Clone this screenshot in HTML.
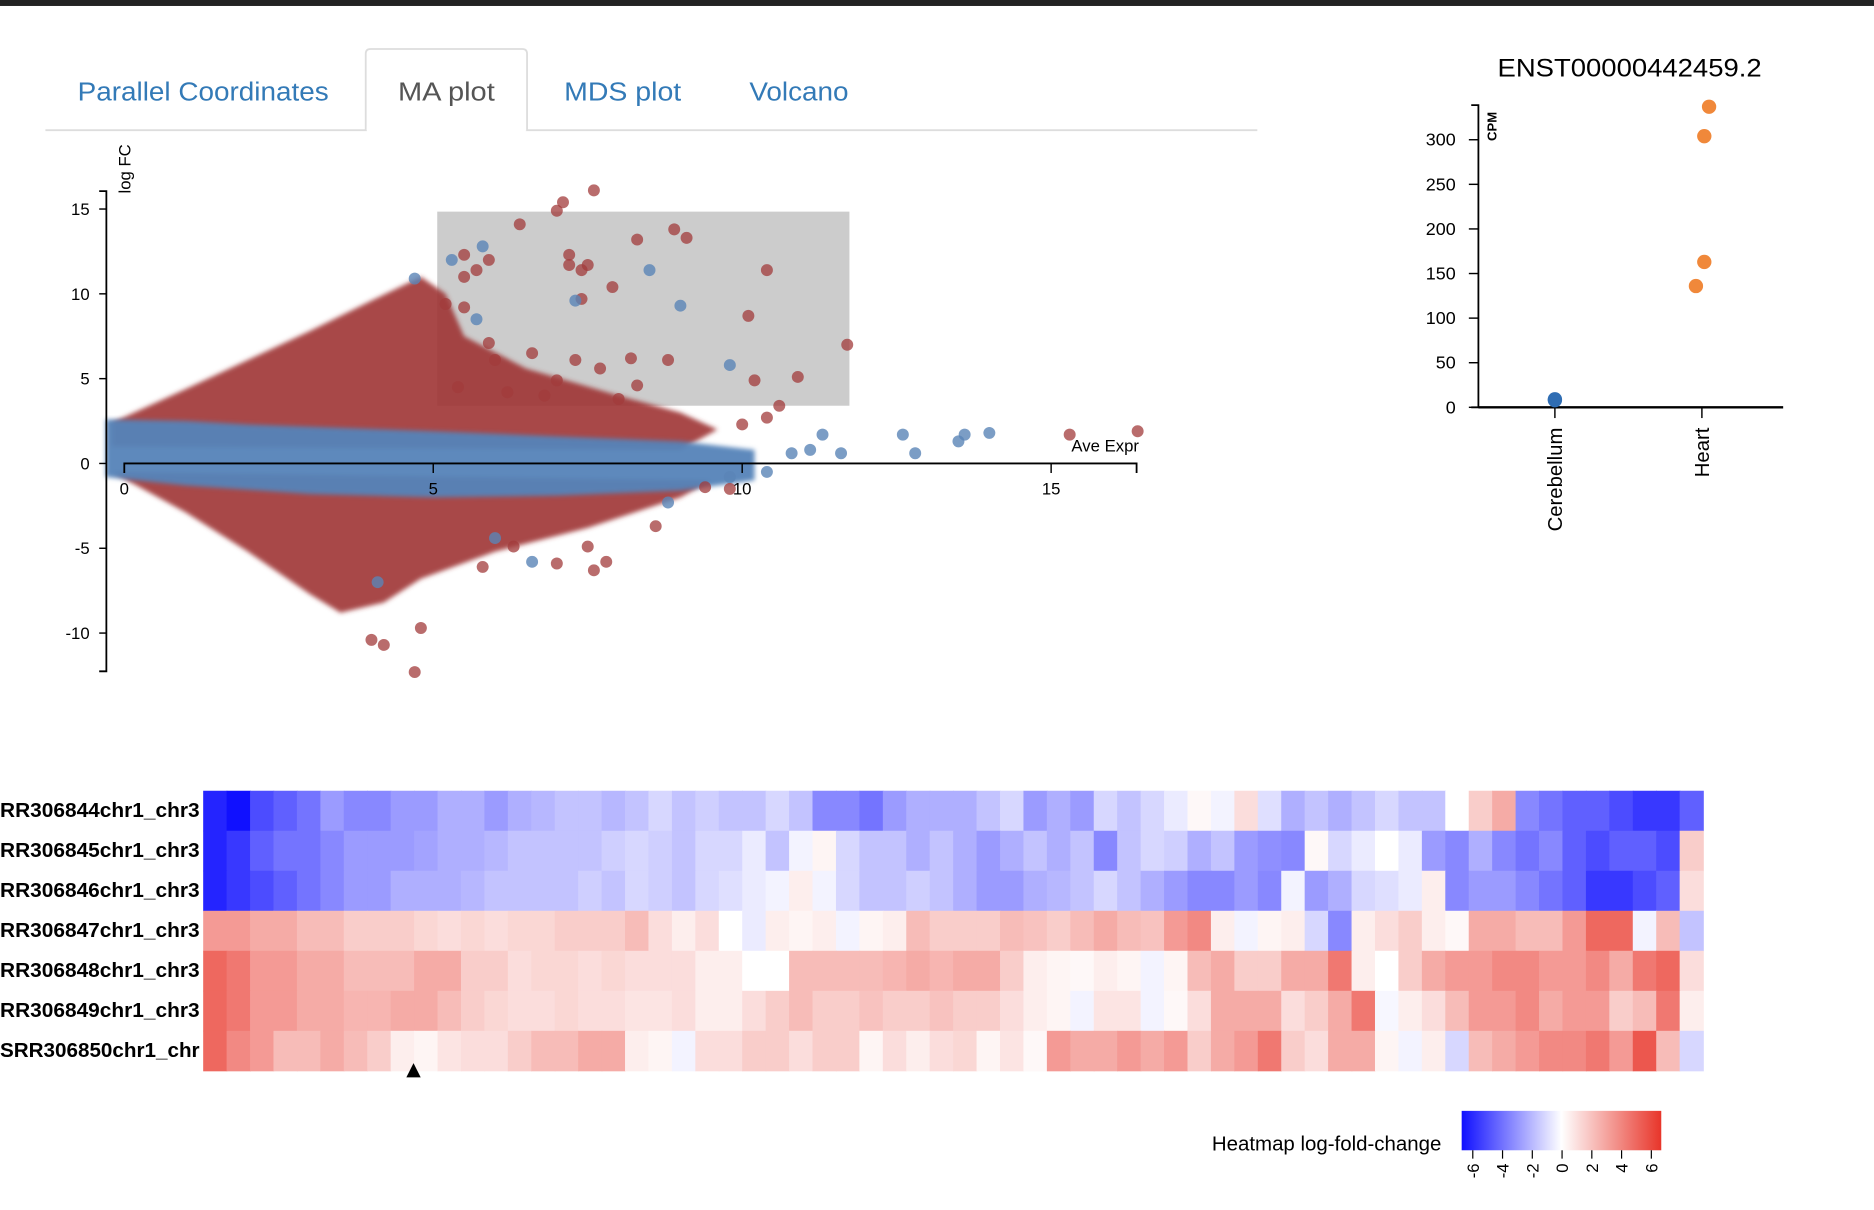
<!DOCTYPE html>
<html><head><meta charset="utf-8">
<style>
html,body{margin:0;padding:0;background:#fff;}
svg{display:block;font-family:"Liberation Sans",Arial,sans-serif;}
</style></head>
<body>
<svg id="root" width="1874" height="1210" viewBox="0 0 1568 1013" preserveAspectRatio="none" xmlns="http://www.w3.org/2000/svg">
<defs>
<filter id="soft" x="-5%" y="-5%" width="110%" height="110%"><feGaussianBlur stdDeviation="2"/></filter>
<linearGradient id="legendGrad" x1="0" x2="1" y1="0" y2="0">
<stop offset="0" stop-color="#1010ff"/><stop offset="0.5" stop-color="#ffffff"/><stop offset="1" stop-color="#e8352a"/>
</linearGradient>
</defs>
<rect x="0" y="0" width="1568" height="5" fill="#222"/>
<g>
<line x1="38" y1="109" x2="1052" y2="109" stroke="#ddd" stroke-width="1.5"/>
<path d="M306,109 V45 Q306,41 310,41 H437 Q441,41 441,45 V109" fill="#fff" stroke="#ddd" stroke-width="1.5"/>
<rect x="307" y="106" width="133" height="5" fill="#fff"/>
<text x="65" y="84" font-size="22" textLength="210" lengthAdjust="spacingAndGlyphs" fill="#337ab7">Parallel Coordinates</text>
<text x="333" y="84" font-size="22" textLength="81" lengthAdjust="spacingAndGlyphs" fill="#555">MA plot</text>
<text x="472" y="84" font-size="22" textLength="98" lengthAdjust="spacingAndGlyphs" fill="#337ab7">MDS plot</text>
<text x="627" y="84" font-size="22" textLength="83" lengthAdjust="spacingAndGlyphs" fill="#337ab7">Volcano</text>
</g>
<g id="ma"></g>
<g id="side"></g>
<g id="heat"></g>
</svg>
<script>
// ---------- MA plot data ----------
const maXTicks = [0, 5, 10, 15];
const maYTicks = [15, 10, 5, 0, -5, -10];
const blueBand = [[-0.3,2.6],[1,2.5],[2,2.3],[5,1.9],[7,1.6],[9,1.3],[10.2,0.8],[10.2,-1],[9,-1.6],[7,-1.9],[5,-2],[3,-1.8],[1,-1.3],[-0.3,-0.8]];
const redUpper = [[-0.2,2.4],[1,4.4],[2,6.1],[3,7.8],[4,9.6],[4.8,11],[5.2,10],[5.5,7.5],[6.5,5.6],[8,4],[9,3],[9.6,2],[9,0.8],[-0.2,1]];
const redLower = [[-0.2,-0.5],[1,-2.9],[2,-5.2],[3,-7.7],[3.5,-8.8],[4.2,-8.2],[4.8,-6.8],[6,-5.2],[7.5,-3.8],[9,-2],[9.5,-1],[-0.2,-0.5]];
const redX = [7.6,7.1,7.0,6.4,8.9,9.1,8.3,7.2,5.5,5.9,10.4,7.2,7.5,7.9,7.4,10.1,5.2,5.5,5.9,6.6,8.2,11.7,7.7,7.0,8.8,10.2,10.9,8.3,10.6,7.4,5.7,5.5,6.0,7.3,15.3,16.4,4.7,4.2,4.8,4.0,7.0,7.6,7.5,7.8,8.6,5.8,6.3,9.4,9.8,10.0,10.4,6.2,6.8,5.4,8.0];
const redY = [16.1,15.4,14.9,14.1,13.8,13.3,13.2,12.3,12.3,12.0,11.4,11.7,11.7,10.4,9.7,8.7,9.4,9.2,7.1,6.5,6.2,7.0,5.6,4.9,6.1,4.9,5.1,4.6,3.4,11.4,11.4,11.0,6.1,6.1,1.7,1.9,-12.3,-10.7,-9.7,-10.4,-5.9,-6.3,-4.9,-5.8,-3.7,-6.1,-4.9,-1.4,-1.5,2.3,2.7,4.2,4.0,4.5,3.8];
const blueX = [5.8,5.3,8.5,9.0,4.7,5.7,7.3,9.8,12.6,12.8,13.6,14.0,13.5,11.3,11.6,11.1,10.8,4.1,6.6,6.0,8.8,9.8,10.4];
const blueY = [12.8,12.0,11.4,9.3,10.9,8.5,9.6,5.8,1.7,0.6,1.7,1.8,1.3,1.7,0.6,0.8,0.6,-7.0,-5.8,-4.4,-2.3,-0.8,-0.5];
const brushX = [5.05, 11.75];
const brushY = [14.9, 3.35];

// ---------- side plot data ----------
const sideCats = ["Cerebellum", "Heart"];
const sideTicks = [0, 50, 100, 150, 200, 250, 300];
const cerebVals = [8, 9];
const heartVals = [337, 304, 163, 136];

// ---------- heatmap data ----------
const rowNames = ["RR306844chr1_chr3","RR306845chr1_chr3","RR306846chr1_chr3","RR306847chr1_chr3","RR306848chr1_chr3","RR306849chr1_chr3","SRR306850chr1_chr"];
const row1 = [-5.5,-6,-4.5,-4,-3.5,-2.5,-3,-3,-2.5,-2.5,-2,-2,-2.5,-2,-1.8,-1.5,-1.5,-1.8,-1.5,-1,-1.5,-1.2,-1.5,-1.5,-1,-1.5,-3,-3,-3.5,-2.5,-2,-2,-2,-1.5,-1,-2.5,-2,-2.5,-1,-1.5,-1,-0.5,0.2,-0.3,1,-0.8,-2,-1.5,-2,-1.5,-1,-1.5,-1.5,0,1.5,2.5,-3,-3.5,-4,-4,-4.5,-5,-5,-4];
const row2 = [-5.5,-5,-4,-3.5,-3.5,-3,-2.5,-2.5,-2.5,-2.3,-2,-2,-1.8,-1.5,-1.5,-1.5,-1.5,-1.2,-1,-1.2,-1.5,-1,-1,-0.5,-1.5,-0.3,0.3,-1,-1.5,-1.5,-2,-1.5,-2,-2.5,-2,-1.5,-2,-1.5,-3,-1.5,-1,-1.2,-2,-1.5,-2.5,-2.8,-3,0.2,-1,-0.5,0,-0.5,-2.5,-3,-2,-3,-3.5,-3,-4,-4.5,-4,-4,-4.5,1.5];
const row3 = [-5.5,-5,-4.5,-4,-3.5,-3,-2.5,-2.5,-2,-2,-2,-1.8,-1.5,-1.5,-1.5,-1.5,-1.2,-1.5,-1,-1.2,-1.5,-1,-0.8,-0.5,-0.3,0.5,-0.3,-1,-1.5,-1.5,-1.2,-1.5,-2,-2.5,-2.5,-2,-1.8,-1.5,-1,-1.5,-2,-2.5,-3,-3,-2.5,-3,-0.3,-2.5,-2,-1,-0.8,-0.5,0.5,-3,-2.5,-2.5,-3,-3.5,-4,-5,-5,-4.5,-4,1];
const row4 = [3,3,2.5,2.5,2,2,1.5,1.5,1.5,1.2,1,1.2,1,1.2,1.2,1.5,1.5,1.5,2,1,0.5,1,0,-0.5,0.5,0.3,0.5,-0.3,0.3,0.5,2,1.5,1.5,1.5,2,1.8,1.5,2,2.5,2,1.8,3,3.5,0.5,-0.3,0.3,0.5,-1,-3,0.5,1,1.5,0.5,0.2,2.5,2.5,2,2,3,4.5,4.5,-0.3,2,-1.5];
const row5 = [4.5,4,3,3,2.5,2.5,2,2,2,2.5,2.5,1.5,1.5,1,1.2,1.2,1,1.2,1,1,1,0.5,0.5,0,0,2,2,2,2,2.2,2.5,2.2,2.5,2.5,1.5,0.5,0.3,0.2,0.5,0.3,-0.3,0.3,2,2.5,1.5,1.5,2.5,2.5,4,0.5,0,1.5,2.5,3,3,3.5,3.5,3,3,3.5,2.5,4,4.5,1];
const row6 = [4.5,4,3,3,2.5,2.5,2.2,2.2,2.5,2.5,2,1.5,1.2,1,1,1.2,1,1,0.8,0.8,1,0.5,0.5,1,1.5,2,1.5,1.5,1.8,1.5,1.5,1.8,1.5,1.5,1,0.5,0.3,-0.3,0.8,0.8,-0.3,0.2,1,2.5,2.5,2.5,1,1.5,2.5,4,-0.2,0.5,1,2,3,3,3.5,2.5,3,3,1.5,2,4,0.5];
const row7 = [4.5,3.5,3,2,2,2.5,2,1.5,0.5,0.3,0.8,1,1,1.5,2,2,2.5,2.5,0.5,0.3,-0.3,1,1,1.5,1.5,1,1.5,1.5,0.3,1,0.5,1,1.2,0.3,0.8,0.2,3,2.5,2.5,3,2.5,3,1.5,2.5,3,4,1.5,1,2.5,2.5,0.3,-0.3,0.5,-1,2,2.5,3,3.5,3.5,4,3,5,2,-1];
const legendTicks = [-6,-4,-2,0,2,4,6];

const NS = "http://www.w3.org/2000/svg";
function mk(parent, tag, attrs, text){
  const e = document.createElementNS(NS, tag);
  for (const k in attrs) e.setAttribute(k, attrs[k]);
  if (text !== undefined) e.textContent = text;
  parent.appendChild(e);
  return e;
}

// ===== MA plot =====
const ma = document.getElementById('ma');
const mx = v => 104 + v * 51.7;
const my = v => 388 - v * 14.2;
let el;
el = mk(ma, 'rect', {x: mx(brushX[0]), y: my(brushY[0]), width: mx(brushX[1]) - mx(brushX[0]), height: my(brushY[1]) - my(brushY[0]), fill: '#cccccc', stroke: '#fff', 'stroke-width': 1.5});


function poly(pts, color, op, name){
  const p = mk(ma, 'polygon', {points: pts.map(d => mx(d[0]) + ',' + my(d[1])).join(' '), fill: color, 'fill-opacity': op, filter: 'url(#soft)'});
  
  
}
poly(redUpper, '#9e3434', 0.9, 'dense-up-points');
poly(redLower, '#9e3434', 0.9, 'dense-down-points');
poly(blueBand, '#5583b8', 0.95, 'dense-ns-points');
redX.forEach((x, i) => {
  const c = mk(ma, 'circle', {cx: mx(x), cy: my(redY[i]), r: 5, fill: '#a23b3b', 'fill-opacity': 0.75});
  
  
});
blueX.forEach((x, i) => {
  const c = mk(ma, 'circle', {cx: mx(x), cy: my(blueY[i]), r: 5, fill: '#5a85b6', 'fill-opacity': 0.8});
  
  
});
el = mk(ma, 'path', {d: 'M83,160 H89 V562 H83', fill: 'none', stroke: '#000', 'stroke-width': 1.5});


maYTicks.forEach(t => {
  mk(ma, 'line', {x1: 83, x2: 89, y1: my(t), y2: my(t), stroke: '#000', 'stroke-width': 1.2});
  const tx = mk(ma, 'text', {x: 75, y: my(t) + 5, 'font-size': 14, 'text-anchor': 'end'}, t);
  
  
});
el = mk(ma, 'path', {d: 'M104,396 V388 H951 V396', fill: 'none', stroke: '#000', 'stroke-width': 1.5});


maXTicks.forEach(t => {
  mk(ma, 'line', {x1: mx(t), x2: mx(t), y1: 388, y2: 396, stroke: '#000', 'stroke-width': 1.2});
  const tx = mk(ma, 'text', {x: mx(t), y: 414, 'font-size': 14, 'text-anchor': 'middle'}, t);
  
  
});
el = mk(ma, 'text', {x: 953, y: 378, 'font-size': 14, 'text-anchor': 'end'}, 'Ave Expr');


el = mk(ma, 'text', {x: 0, y: 0, 'font-size': 14, transform: 'translate(109,162) rotate(-90)'}, 'log FC');



// ===== side plot =====
const side = document.getElementById('side');
const sy = v => 341 - v * 0.7467;
const sx = i => 1301 + i * 123;
el = mk(side, 'text', {x: 1253, y: 64, 'font-size': 21, textLength: 221, lengthAdjust: 'spacingAndGlyphs'}, 'ENST00000442459.2');


el = mk(side, 'path', {d: 'M1231,88 H1237 V341 H1231', fill: 'none', stroke: '#000', 'stroke-width': 1.5});


sideTicks.forEach(t => {
  mk(side, 'line', {x1: 1229, x2: 1237, y1: sy(t), y2: sy(t), stroke: '#000', 'stroke-width': 1.2});
  const tx = mk(side, 'text', {x: 1218, y: sy(t) + 5, 'font-size': 15, 'text-anchor': 'end'}, t);
  
  
});
el = mk(side, 'text', {x: 0, y: 0, 'font-size': 11, 'font-weight': 'bold', transform: 'translate(1252,118) rotate(-90)'}, 'CPM');


el = mk(side, 'line', {x1: 1237, x2: 1492, y1: 341, y2: 341, stroke: '#000', 'stroke-width': 2});


sideCats.forEach((c, i) => {
  mk(side, 'line', {x1: sx(i), x2: sx(i), y1: 341, y2: 350, stroke: '#000', 'stroke-width': 1.2});
  const tx = mk(side, 'text', {x: 0, y: 0, 'font-size': 17, 'text-anchor': 'end', transform: 'translate(' + (sx(i) + 6) + ',358) rotate(-90)'}, c);
  
  
});
cerebVals.forEach(v => {
  const c = mk(side, 'circle', {cx: sx(0), cy: sy(v), r: 6, fill: '#2f6db3'});
  
  
});
const heartJitter = [6, 2, 2, -5];
heartVals.forEach((v, i) => {
  const c = mk(side, 'circle', {cx: sx(1) + heartJitter[i], cy: sy(v), r: 6, fill: '#f0883a'});
  
  
});

// ===== heatmap =====
const heat = document.getElementById('heat');
const rows = [row1, row2, row3, row4, row5, row6, row7];
const hx0 = 170, hx1 = 1425, hy0 = 662, rowH = 33.5;
function color(v){
  const t = Math.max(-1, Math.min(1, v / 6));
  let r, g, b;
  if (t < 0){ const a = -t; r = 255 + (16 - 255) * a; g = 255 + (16 - 255) * a; b = 255; }
  else { const a = t; r = 255 + (232 - 255) * a; g = 255 + (53 - 255) * a; b = 255 + (42 - 255) * a; }
  return 'rgb(' + Math.round(r) + ',' + Math.round(g) + ',' + Math.round(b) + ')';
}
rows.forEach((row, ri) => {
  const cw = (hx1 - hx0) / row.length;
  row.forEach((v, ci) => {
    const r = mk(heat, 'rect', {x: hx0 + ci * cw, y: hy0 + ri * rowH, width: cw + 0.6, height: rowH + 0.4, fill: color(v)});
    
    
  });
  const tx = mk(heat, 'text', {x: 0, y: hy0 + ri * rowH + 22, 'font-size': 17, 'font-weight': 'bold', textLength: 167, lengthAdjust: 'spacingAndGlyphs'}, rowNames[ri]);
  
  
});
el = mk(heat, 'polygon', {points: '346,890 340,902 352,902', fill: '#000'});


el = mk(heat, 'rect', {x: 1223, y: 930, width: 167, height: 33, fill: 'url(#legendGrad)'});


el = mk(heat, 'text', {x: 1014, y: 963, 'font-size': 17, textLength: 192, lengthAdjust: 'spacingAndGlyphs'}, 'Heatmap log-fold-change');


const lx = v => 1307 + v * 12.45;
legendTicks.forEach(t => {
  mk(heat, 'line', {x1: lx(t), x2: lx(t), y1: 963, y2: 970, stroke: '#000', 'stroke-width': 1});
  const tx = mk(heat, 'text', {x: 0, y: 0, 'font-size': 14, 'text-anchor': 'end', transform: 'translate(' + (lx(t) + 5) + ',974) rotate(-90)'}, t);
  
  
});
</script>
</body></html>
